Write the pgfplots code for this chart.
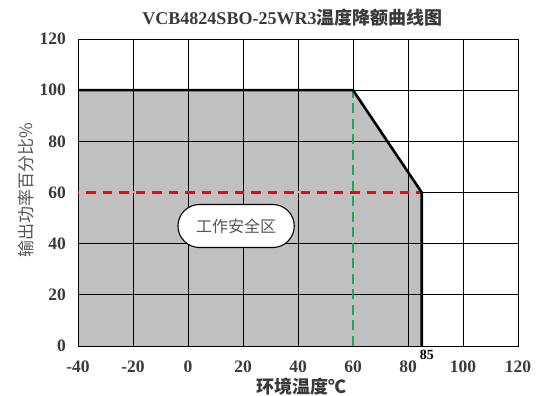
\documentclass[border=0pt]{standalone}
\usepackage{fontspec}
\setmainfont{Liberation Serif}
\newfontfamily\cjk{Noto Sans CJK SC}
\usepackage{pgfplots}
\pgfplotsset{compat=1.18}
\usetikzlibrary{shapes.misc}
\definecolor{tickgray}{HTML}{3A3A3A}
\definecolor{areagray}{HTML}{C0C0C0}
\definecolor{labgray}{HTML}{555555}
\definecolor{dgreen}{HTML}{1FA84F}
\begin{document}
\begin{tikzpicture}
\begin{axis}[
  set layers,
  scale only axis,
  width=440pt, height=307pt,
  xmin=-40, xmax=120, ymin=0, ymax=120,
  xtick={-40,-20,0,20,40,60,80,100,120},
  ytick={0,20,40,60,80,100,120},
  grid=major,
  major grid style={black, line width=0.8pt},
  axis line style={black, line width=0.8pt},
  tick style={draw=none},
  /pgf/number format/assume math mode=true,
  ticklabel style={font=\fontsize{17.5}{19}\selectfont\bfseries, text=tickgray, inner sep=0pt},
  xticklabel style={anchor=center, yshift=-21pt},
  yticklabel style={anchor=east, xshift=-12pt},
  title={\fontsize{18}{20}\selectfont\bfseries VCB4824SBO-25WR3{\cjk 温度降额曲线图}},
  title style={at={(axis description cs:0.4875,1.049)}, anchor=center, text=tickgray, inner sep=0pt},
  xlabel={\cjk\fontsize{18}{20}\selectfont\bfseries 环境温度℃},
  xlabel style={at={(axis description cs:0.509,-0.1336)}, anchor=center, text=tickgray, inner sep=0pt},
  ylabel={\cjk\fontsize{17}{19}\selectfont 输出功率百分比\%},
  ylabel style={at={(axis description cs:-0.118,0.508)}, anchor=center, text=labgray, inner sep=0pt},
  clip=false,
]
\addplot[fill=areagray, draw=none, on layer=axis background] coordinates {(-40,0) (-40,100) (60,100) (85,60) (85,0) (-40,0)};
% cover the grid line under the dashed guides
\addplot[areagray, line width=2pt] coordinates {(-40,60) (85,60)};
\addplot[areagray, line width=2pt] coordinates {(60,0.3) (60,99)};
\addplot[red, line width=2.8pt, dash pattern=on 9.5pt off 7pt, dash phase=-8pt] coordinates {(-40,60) (85,60)};
\addplot[dgreen, line width=2.8pt, dash pattern=on 10pt off 5.5pt] coordinates {(60,0) (60,100)};
\addplot[black, line width=2.6pt] coordinates {(-40,100) (60,100) (85,60) (85,0)};
\node[rounded rectangle, draw=black, line width=1.1pt, fill=white, minimum width=123pt, minimum height=43pt, font=\cjk\fontsize{16}{18}\selectfont, text=labgray] at (axis cs:17.5,46.9) {工作安全区};
\node[font=\fontsize{14}{15}\selectfont\bfseries, text=black, inner sep=0pt] at (axis cs:86.9,-3.4) {85};
\end{axis}
\pgfresetboundingbox
\useasboundingbox (-78pt,-50pt) rectangle (458pt,346pt);
\end{tikzpicture}
\end{document}
